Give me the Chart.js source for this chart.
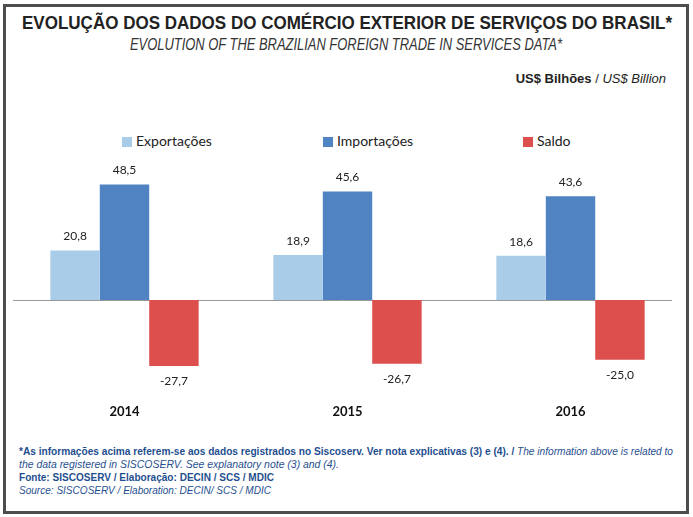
<!DOCTYPE html>
<html>
<head>
<meta charset="utf-8">
<script src="https://cdn.jsdelivr.net/npm/chart.js@4"></script>
<style>
  body { margin: 0; background: #fff; width: 693px; height: 517px; overflow: hidden; font-family: "Liberation Sans", Arial, sans-serif; }
  .frame { position: absolute; left: 3px; top: 4px; width: 680px; height: 504px; border: 3px solid #4d4d4d; }
  .fit { position: absolute; white-space: nowrap; transform-origin: 0 0; }
  .title { top: 12px; font-weight: bold; font-size: 19px; color: #222; }
  .subtitle { top: 36px; font-style: italic; font-size: 16px; color: #333; }
  .unit { position: absolute; right: 27px; top: 71px; font-size: 13px; color: #222; }
  .legend { position: absolute; top: 132px; left: 0; font-family: Lato, sans-serif; font-size: 14px; color: #222; }
  .legend span.item { position: absolute; white-space: nowrap; }
  .legend i { display: inline-block; width: 10px; height: 10px; margin-right: 4px; vertical-align: -1px; }
  #wrap { position: absolute; left: 13px; top: 160px; width: 669px; height: 261px; }
  .note { font-size: 11px; line-height: 13px; color: #1f4f8f; }
</style>
</head>
<body>
<div class="frame"></div>
<div class="fit title" data-x="22" data-w="650">EVOLUÇÃO DOS DADOS DO COMÉRCIO EXTERIOR DE SERVIÇOS DO BRASIL*</div>
<div class="fit subtitle" data-x="130" data-w="432">EVOLUTION OF THE BRAZILIAN FOREIGN TRADE IN SERVICES DATA*</div>
<div class="unit"><b>US$ Bilhões</b> / <i>US$ Billion</i></div>
<div class="legend" id="legend"></div>
<div id="wrap"><canvas id="chart"></canvas></div>
<div class="fit note" style="top:445px" data-x="19" data-w="654"><b>*As informações acima referem-se aos dados registrados no Siscoserv. Ver nota explicativas (3) e (4). / </b><i>The information above is related to</i></div>
<div class="fit note" style="top:458px" data-x="19" data-w="320"><i>the data registered in SISCOSERV. See explanatory note (3) and (4).</i></div>
<div class="fit note" style="top:471px" data-x="19" data-w="255"><b>Fonte: SISCOSERV / Elaboração: DECIN / SCS / MDIC</b></div>
<div class="fit note" style="top:484px" data-x="19" data-w="252"><i>Source: SISCOSERV / Elaboration: DECIN/ SCS / MDIC</i></div>
<script>
const years = ["2014", "2015", "2016"];
const seriesNames = ["Exportações", "Importações", "Saldo"];
const exportacoes = [20.8, 18.9, 18.6];
const importacoes = [48.5, 45.6, 43.6];
const saldo = [-27.7, -26.7, -25.0];
const colors = ["#a9cde9", "#4f83c2", "#dc4f4d"];

// squeeze the condensed texts to their widths in the picture
document.querySelectorAll(".fit").forEach(el => {
  const w = el.getBoundingClientRect().width;
  el.style.left = el.dataset.x + "px";
  el.style.transform = "scaleX(" + (el.dataset.w / w) + ")";
});

// legend built from series names
const legendX = [122, 323, 523];
const legend = document.getElementById("legend");
seriesNames.forEach((name, i) => {
  const s = document.createElement("span");
  s.className = "item";
  s.style.left = legendX[i] + "px";
  s.innerHTML = '<i style="background:' + colors[i] + '"></i>' + name;
  legend.appendChild(s);
});

const fmt = v => v.toFixed(1).replace(".", ",");

const barLabels = {
  id: "barLabels",
  afterDatasetsDraw(chart) {
    const ctx = chart.ctx;
    ctx.save();
    ctx.font = "12px Lato, sans-serif";
    ctx.fillStyle = "#222";
    ctx.textAlign = "center";
    ctx.textBaseline = "middle";
    chart.data.datasets.forEach((ds, di) => {
      chart.getDatasetMeta(di).data.forEach((bar, i) => {
        const v = ds.data[i];
        const y = v >= 0 ? bar.y - 14 : bar.y + 15;
        ctx.fillText(fmt(v), bar.x, y);
      });
    });
    ctx.restore();
  }
};

const zeroLine = {
  id: "zeroLine",
  beforeDatasetsDraw(chart) {
    const ctx = chart.ctx;
    const y = chart.scales.y.getPixelForValue(0);
    ctx.save();
    ctx.strokeStyle = "#9a9a9a";
    ctx.lineWidth = 1;
    ctx.beginPath();
    ctx.moveTo(chart.chartArea.left, Math.round(y) + 0.5);
    ctx.lineTo(chart.chartArea.right - 10, Math.round(y) + 0.5);
    ctx.stroke();
    ctx.restore();
  }
};

new Chart(document.getElementById("chart"), {
  type: "bar",
  data: {
    labels: years,
    datasets: [
      { label: seriesNames[0], data: exportacoes, backgroundColor: colors[0] },
      { label: seriesNames[1], data: importacoes, backgroundColor: colors[1] },
      { label: seriesNames[2], data: saldo, backgroundColor: colors[2] }
    ]
  },
  options: {
    responsive: true,
    maintainAspectRatio: false,
    animation: false,
    layout: { padding: { top: 9, bottom: 0, left: 0, right: 0 } },
    plugins: { legend: { display: false }, tooltip: { enabled: false } },
    datasets: { bar: { barPercentage: 1, categoryPercentage: 0.665 } },
    scales: {
      x: {
        grid: { display: false },
        border: { display: false },
        ticks: { padding: 1, color: "#111", font: { family: "Lato, sans-serif", size: 13, weight: "bold" } }
      },
      y: { display: false, min: -40, max: 55 }
    }
  },
  plugins: [zeroLine, barLabels]
});
</script>
</body>
</html>
